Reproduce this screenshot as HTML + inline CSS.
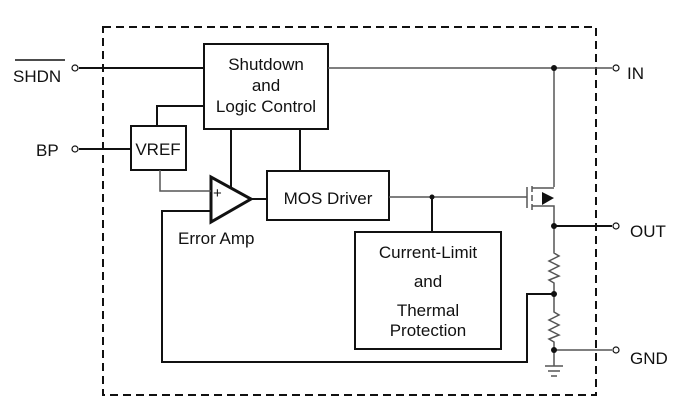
<!DOCTYPE html>
<html><head><style>body{margin:0;background:#fff}svg{display:block}text{font-family:"Liberation Sans",Arial,sans-serif;fill:#111}</style></head><body>
<svg width="688" height="415" viewBox="0 0 688 415" xmlns="http://www.w3.org/2000/svg">
<rect x="103" y="27" width="493" height="368" fill="none" stroke="#111" stroke-width="2" stroke-dasharray="8,5"/>
<g stroke="#111" stroke-width="2" fill="none">
<rect x="204" y="44" width="124" height="85"/>
<rect x="131" y="126" width="55" height="44"/>
<rect x="267" y="171" width="122" height="49"/>
<rect x="355" y="232" width="146" height="117"/>
<polygon points="211,177 211,222 251,199" stroke-width="3"/>
<line x1="79" y1="68" x2="204" y2="68"/>
<line x1="79" y1="149" x2="131" y2="149"/>
<polyline points="157,126 157,106 204,106"/>
<line x1="231" y1="129" x2="231" y2="188"/>
<line x1="300" y1="129" x2="300" y2="171"/>
<line x1="251" y1="199" x2="267" y2="199"/>
<polyline points="211,211 162,211 162,362 527,362 527,294 554,294"/>
<line x1="432" y1="197" x2="432" y2="232"/>
<line x1="554" y1="226" x2="612" y2="226"/>
</g>
<g stroke="#555" stroke-width="1.5" fill="none">
<line x1="328" y1="68" x2="612" y2="68"/>
<polyline points="160,170 160,191 211,191"/>
<line x1="389" y1="197" x2="527" y2="197"/>
<line x1="554" y1="68" x2="554" y2="187"/>
<line x1="527" y1="187" x2="527" y2="208"/>
<line x1="532" y1="186" x2="532" y2="192"/>
<line x1="532" y1="195" x2="532" y2="201"/>
<line x1="532" y1="204" x2="532" y2="210"/>
<polyline points="532,188 554,188"/>
<polyline points="532,206 554,206 554,250"/>
<polyline points="554,250 554,253 559,256 549,261 559,266 549,271 559,276 549,280 554,283 554,312 559,315 549,320 559,325 549,330 559,335 549,339 554,342 554,366"/>
<line x1="554" y1="350" x2="612" y2="350"/>
<line x1="545" y1="366" x2="563" y2="366"/>
<line x1="548" y1="371" x2="560" y2="371"/>
<line x1="551" y1="376" x2="557" y2="376"/>
</g>
<polygon points="542,192 542,205 554,198" fill="#111"/>
<g fill="#111"><circle cx="554" cy="68" r="3"/><circle cx="432" cy="197" r="2.5"/><circle cx="554" cy="226" r="3"/><circle cx="554" cy="294" r="3"/><circle cx="554" cy="350" r="3"/></g>
<g fill="#fff" stroke="#111" stroke-width="1.2"><circle cx="75" cy="68" r="3"/><circle cx="75" cy="149" r="3"/><circle cx="616" cy="68" r="3"/><circle cx="616" cy="226" r="3"/><circle cx="616" cy="350" r="3"/></g>
<g font-size="17">
<text x="266" y="70" text-anchor="middle">Shutdown</text>
<text x="266" y="91" text-anchor="middle">and</text>
<text x="266" y="112" text-anchor="middle">Logic Control</text>
<text x="158" y="155" text-anchor="middle">VREF</text>
<text x="328" y="204" text-anchor="middle">MOS  Driver</text>
<text x="428" y="258" text-anchor="middle">Current-Limit</text>
<text x="428" y="287" text-anchor="middle">and</text>
<text x="428" y="316" text-anchor="middle">Thermal</text>
<text x="428" y="336" text-anchor="middle">Protection</text>
<text x="178" y="244">Error Amp</text>
<text x="13" y="82">SHDN</text>
<text x="36" y="156">BP</text>
<text x="627" y="79">IN</text>
<text x="630" y="237">OUT</text>
<text x="630" y="364">GND</text>
<text x="213" y="198" font-size="15">+</text>
</g>
<line x1="15" y1="60" x2="65" y2="60" stroke="#111" stroke-width="1.5"/>
</svg>
</body></html>
